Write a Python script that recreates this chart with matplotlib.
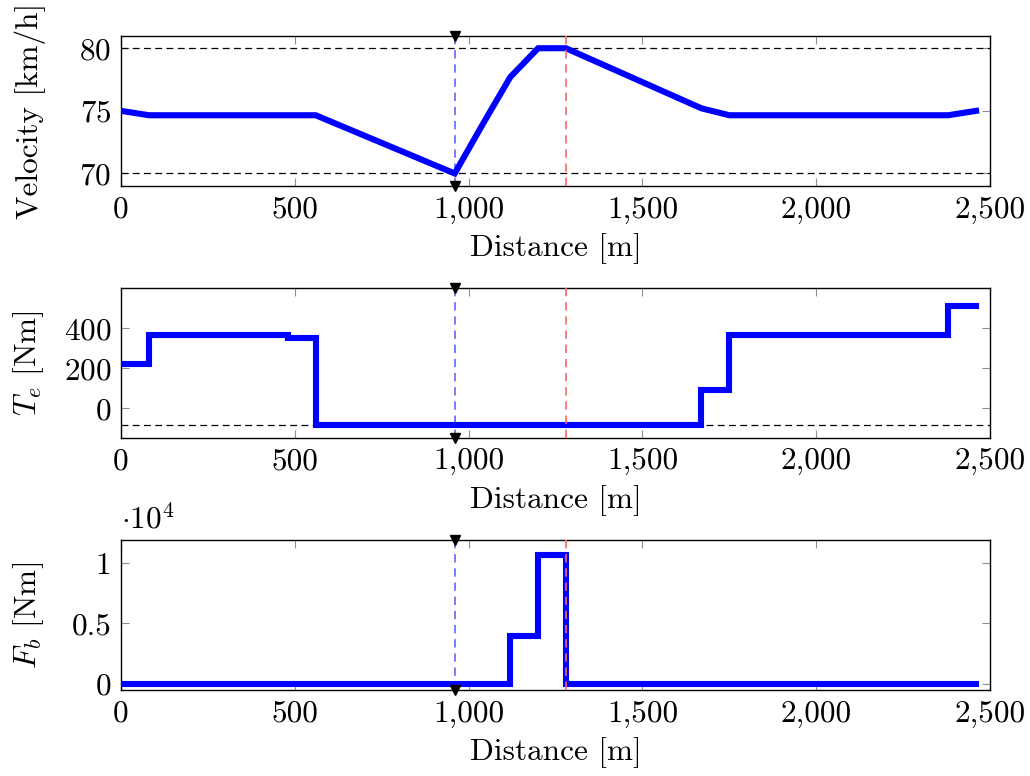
import matplotlib
matplotlib.use('Agg')
import matplotlib.pyplot as plt
from matplotlib.ticker import FuncFormatter

# 距離 [m] と各量
vel_x = [0, 80, 560, 960, 1040, 1120, 1200, 1280, 1670, 1750, 2380, 2460]
vel = [75.0, 74.65, 74.65, 70.0, 73.9, 77.7, 80.0, 80.0, 75.2, 74.65, 74.65, 75.0]

te_x = [0, 80, 480, 560, 1670, 1750, 2380, 2460]
te = [220, 366, 353, -85, 91, 366, 511, 511]

fb_x = [0, 1120, 1200, 1280, 2460]
fb = [0, 4000, 10700, 0, 0]

v_lims = [70, 80]      # 速度の上下限
te_min = -85           # トルク下限
x_blue = 960           # 最低速度地点
x_red = 1280           # 制動終了地点

x_ticks = [0, 500, 1000, 1500, 2000, 2500]

# 文字
plt.rcParams['font.family'] = 'cmr10'
plt.rcParams['mathtext.fontset'] = 'cm'
plt.rcParams['axes.unicode_minus'] = False
plt.rcParams['axes.formatter.use_mathtext'] = True
plt.rcParams['font.size'] = 22.5

fig = plt.figure(figsize=(10.3, 7.76), dpi=100)
W, H = 1030, 776
left, right = 121, 990
boxes = [(35.7, 186), (288.3, 437.7), (540, 690)]
axs = [fig.add_axes([left / W, 1 - b / H, (right - left) / W, (b - t) / H]) for t, b in boxes]

line_kw = dict(color='#0000ff', lw=4.4, solid_joinstyle='miter', zorder=3)
dash_kw = dict(color='black', lw=0.9, dashes=(5.5, 3.5), zorder=2)

ax = axs[0]
ax.plot(vel_x, vel, **line_kw)
for v in v_lims:
    ax.axhline(v, **dash_kw)
ax.set_ylim(69, 81)
ax.set_yticks([70, 75, 80])
ax.set_ylabel('Velocity [km/h]')

ax = axs[1]
ax.step(te_x, te, where='post', **line_kw)
ax.axhline(te_min, **dash_kw)
ax.set_ylim(-147, 600)
ax.set_yticks([0, 200, 400])
ax.set_ylabel('$T_e$ [Nm]')

ax = axs[2]
ax.step(fb_x, fb, where='post', **line_kw)
ax.set_ylim(-500, 11900)
ax.set_yticks([0, 5000, 10000])
ax.yaxis.set_major_formatter(FuncFormatter(lambda v, p: '{:g}'.format(v / 1e4)))
ax.text(0.0, 1.035, r'$\cdot 10^4$', transform=ax.transAxes, ha='left', va='bottom')
ax.set_ylabel('$F_b$ [Nm]')

for ax in axs:
    ax.axvline(x_blue, color='#6464ff', lw=1.2, dashes=(5, 3.5), zorder=2)
    ax.axvline(x_red, color='#ff6464', lw=1.2, dashes=(5, 3.5), zorder=4)
    lo, hi = ax.get_ylim()
    ax.plot([x_blue, x_blue], [hi, lo], 'v', color='black', ms=7, clip_on=False, zorder=5)
    ax.set_xlim(0, 2500)
    ax.set_xticks(x_ticks)
    ax.xaxis.set_major_formatter(FuncFormatter(lambda v, p: '{:,.0f}'.format(v)))
    ax.set_xlabel('Distance [m]', labelpad=7)
    ax.tick_params(direction='in', top=True, right=True, length=5.5, width=0.8,
                   color='#909090', pad=7)
    for s in ax.spines.values():
        s.set_linewidth(1.0)
    ax.yaxis.set_label_coords(-0.086, 0.5)

fig.savefig('out.png', dpi=100)
